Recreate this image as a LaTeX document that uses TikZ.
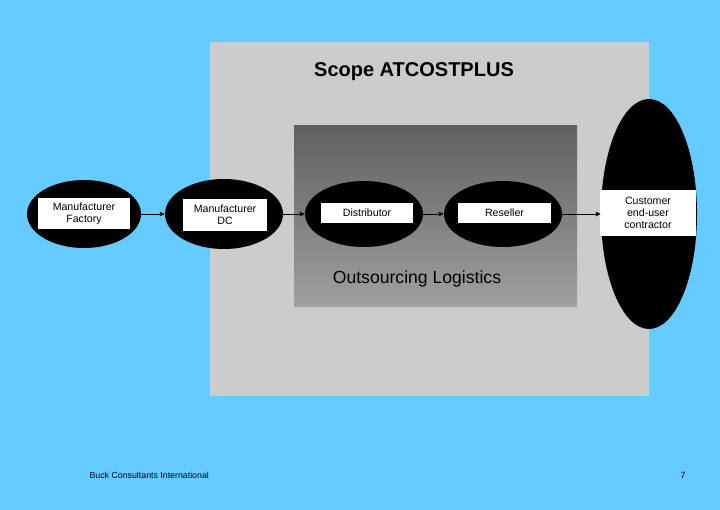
\documentclass[tikz,border=0pt]{standalone}
\usepackage{fontspec}
\setmainfont{Liberation Sans}
\usetikzlibrary{shapes.geometric,arrows.meta}
\definecolor{bgblue}{RGB}{102,204,255}
\definecolor{scopegray}{RGB}{204,204,204}
\definecolor{navytext}{RGB}{0,0,40}
\tikzset{
  blob/.style={ellipse, fill=black, draw=none, inner sep=0pt},
  lbl/.style={fill=white, draw=none, inner sep=0pt, align=center, font=\fontsize{10.6}{12}\selectfont},
  flow/.style={draw=black, line width=0.9pt, -{Triangle[length=5pt,width=4.5pt]}},
}
\begin{document}
\begin{tikzpicture}[x=1pt,y=-1pt]
\fill[bgblue] (0,0) rectangle (720,510);
\useasboundingbox (0,0) rectangle (720,510);
\fill[scopegray] (210,42) rectangle (649,396);
\shade[top color={rgb,255:red,96;green,96;blue,96}, bottom color={rgb,255:red,160;green,160;blue,160}] (294,126) rectangle (577,307);
\node[font=\bfseries\fontsize{20}{24}\selectfont] (scope) at (414,72) {Scope ATCOSTPLUS};
\node[font=\fontsize{17.6}{20}\selectfont, text=black] (outs) at (417,279) {Outsourcing Logistics};

\node[blob, minimum width=114pt, minimum height=68pt] (e1) at (84,214) {};
\node[lbl, minimum width=92pt, minimum height=31pt] (b1) at (84,213.5) {Manufacturer\\Factory};
\node[blob, minimum width=118pt, minimum height=70pt] (e2) at (224,214) {};
\node[lbl, minimum width=84pt, minimum height=32pt] (b2) at (225,215) {Manufacturer\\DC};
\node[blob, minimum width=118pt, minimum height=66pt] (e3) at (364,214) {};
\node[lbl, minimum width=92pt, minimum height=20pt] (b3) at (367,213) {Distributor};
\node[blob, minimum width=118pt, minimum height=66pt] (e4) at (503,214) {};
\node[lbl, minimum width=93pt, minimum height=20pt] (b4) at (504.5,213) {Reseller};
\node[blob, minimum width=96pt, minimum height=230pt] (e5) at (649,214) {};
\node[lbl, minimum width=96pt, minimum height=46pt] (b5) at (648,213) {Customer\\end-user\\contractor};

\draw[flow] (e1.east) -- (e2.west);
\draw[flow] (e2.east) -- (e3.west);
\draw[flow, line width=0.7pt] (e3.east) -- (e4.west);
\draw[flow] (e4.east) -- (e5.west);

\node[font=\fontsize{8.8}{10}\selectfont, text=navytext, anchor=west] (foot) at (86,475) {Buck Consultants International};
\node[font=\fontsize{9}{10}\selectfont, text=navytext] (page) at (683,475) {7};
\end{tikzpicture}
\end{document}
